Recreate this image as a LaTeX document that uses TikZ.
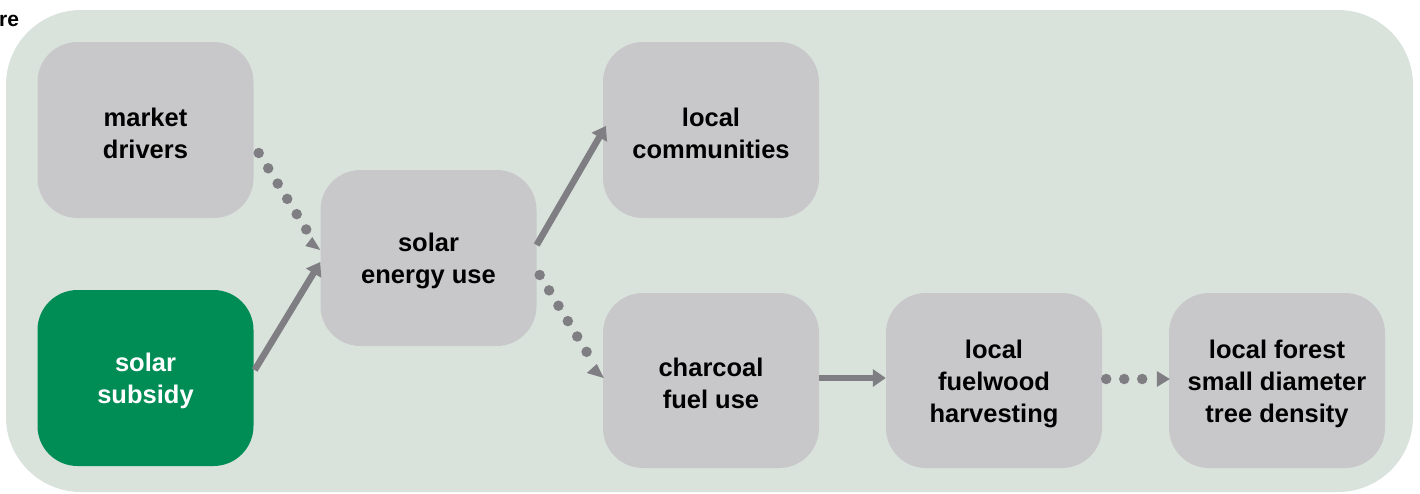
\documentclass[tikz,border=0pt]{standalone}
\usepackage{fontspec}
\setmainfont{Liberation Sans}
\usetikzlibrary{arrows.meta,calc}
\definecolor{bgc}{HTML}{D9E3DC}
\definecolor{boxc}{HTML}{C8C8CA}
\definecolor{arrc}{HTML}{7F7F83}
\definecolor{greenc}{HTML}{008C55}
\tikzset{
  boxshape/.style={draw=none,fill=boxc,rounded corners=40pt,minimum width=216pt,minimum height=176pt,inner sep=0pt},
  boxtext/.style={align=center,font=\fontsize{25.5}{32}\selectfont\bfseries,text=black,inner sep=0pt,yshift=-3pt},
  box/.style={boxshape,label={[boxtext]center:{#1}}},
  greenbox/.style={boxshape,fill=greenc,label={[boxtext,text=white]center:{#1}}},
  solidarrow/.style={draw=arrc,line width=6.5pt,-{Triangle[length=13pt,width=17pt]}},
  dottedline/.style={draw=arrc,line width=10.5pt,line cap=round,dash pattern=on 0pt off 18pt}
}
\begin{document}
\begin{tikzpicture}[x=1pt,y=-1pt]
\useasboundingbox (0,0) rectangle (1420,493);
\fill[bgc,rounded corners=75pt] (6,10) rectangle (1413,492);
\node[anchor=base west,inner sep=0pt,font=\fontsize{21}{24}\selectfont\bfseries] (fig) at (-1,26) {re};

\node[box={market\\drivers}] (md) at (145.5,130) {};
\node[greenbox={solar\\subsidy}] (sub) at (145.5,378) {};
\node[box={solar\\energy use}] (seu) at (428.5,258) {};
\node[box={local\\communities}] (lc) at (711,130) {};
\node[box={charcoal\\fuel use},minimum height=175pt] (ch) at (711,380.5) {};
\node[box={local\\fuelwood\\harvesting},minimum height=175pt] (fw) at (994,380.5) {};
\node[box={local forest\\small diameter\\tree density},minimum height=175pt] (fo) at (1277,380.5) {};

% solid arrows
\draw[solidarrow] ($(sub.east)+(1,-8)$) -- ($(seu.west)+(0,4)$);
\draw[solidarrow] ($(seu.east)+(0,-13)$) -- ($(lc.west)+(3,-4)$);
\draw[solidarrow] ($(ch.east)+(0,-2.5)$) -- ($(fw.west)+(0,-2.5)$);

% dotted arrows
\coordinate (d1s) at ($(md.east)+(5,23)$);
\coordinate (d1e) at ($(seu.west)+(0,-8)$);
\draw[dottedline] (d1s) -- ($(d1e)+(-10,-14)$);
\fill[arrc] (d1e) -- ++(-15,-4) -- ++(7,-9) -- cycle;

\coordinate (d2s) at ($(seu.east)+(3,17)$);
\coordinate (d2e) at ($(ch.west)+(1,-2.5)$);
\draw[dottedline] (d2s) -- ($(d2e)+(-11,-16)$);
\fill[arrc] (d2e) -- ++(-7,-14) -- ++(-10,9) -- cycle;

\coordinate (d3s) at ($(fw.east)+(4,-1.5)$);
\coordinate (d3e) at ($(fo.west)+(1,-1.5)$);
\draw[dottedline] (d3s) -- ++(36,0);
\fill[arrc] (d3e) -- ++(-13,-8) -- ++(0,16) -- cycle;
\end{tikzpicture}
\end{document}
